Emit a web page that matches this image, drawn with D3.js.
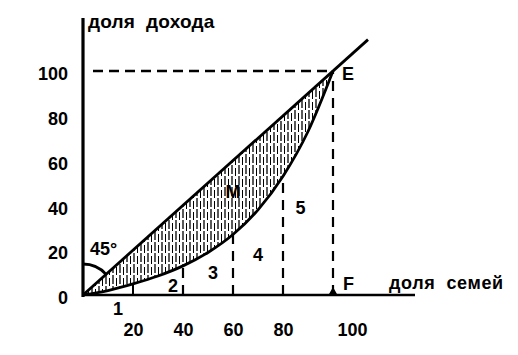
<!DOCTYPE html>
<html>
<head>
<meta charset="utf-8">
<script src="https://cdn.jsdelivr.net/npm/d3@7"></script>
<style>
  body { margin: 0; background: #fff; }
  svg text { font-family: "Liberation Sans", Arial, sans-serif; font-weight: bold; fill: #000; white-space: pre; }
</style>
</head>
<body>
<svg id="chart"></svg>
<script>
// values
let ticks = [0, 20, 40, 60, 80, 100];
let families = [0, 10, 20, 30, 40, 50, 60, 70, 80, 90, 100];   // доля семей, %
let income = [0, 2, 5, 8.5, 13, 19, 27, 38, 53, 73, 100];      // доля дохода, %
let dropLines = [40, 60, 80, 100];
let zoneLabels = [
    {t: '1', x: 14, y: -6},
    {t: '2', x: 36, y: 4},
    {t: '3', x: 52, y: 10},
    {t: '4', x: 70, y: 18},
    {t: '5', x: 87, y: 39},
    {t: 'M', x: 60, y: 46}
];

let w = 518;
let h = 355;

let svg = d3.select('#chart')
    .attr('width', w)
    .attr('height', h);

let x = d3.scaleLinear().domain([0, 100]).range([83, 333]);
let y = d3.scaleLinear().domain([0, 100]).range([295, 71]);

let lorenz = families.map((f, i) => ({f: f, v: income[i]}));
let curve = d3.curveMonotoneX;

// hatching pattern (vertical strokes, a bit irregular like the scan)
let pat = svg.append('defs').append('pattern')
    .attr('id', 'hatch')
    .attr('patternUnits', 'userSpaceOnUse')
    .attr('width', 7)
    .attr('height', 11);
pat.append('line')
    .attr('x1', 1).attr('x2', 1)
    .attr('y1', 0).attr('y2', 9)
    .attr('stroke', '#000').attr('stroke-width', 1.3);
pat.append('line')
    .attr('x1', 4.5).attr('x2', 4.5)
    .attr('y1', 3).attr('y2', 11)
    .attr('stroke', '#000').attr('stroke-width', 1);

// shaded area between the equality line and the curve
svg.append('path')
    .datum(lorenz)
    .attr('fill', 'url(#hatch)')
    .attr('d', d3.area()
        .x(d => x(d.f))
        .y0(d => y(d.v))
        .y1(d => y(d.f))
        .curve(curve));

// dashed guides
svg.append('line')
    .attr('x1', x(4)).attr('x2', x(100))
    .attr('y1', y(100)).attr('y2', y(100))
    .attr('stroke', '#000').attr('stroke-width', 2.5)
    .attr('stroke-dasharray', '10,6');

let curveAt = f => income[families.indexOf(f)];

svg.selectAll('.drop')
    .data(dropLines)
    .enter()
    .append('line')
    .attr('class', 'drop')
    .attr('x1', d => x(d)).attr('x2', d => x(d))
    .attr('y1', y(0)).attr('y2', d => y(curveAt(d)))
    .attr('stroke', '#000').attr('stroke-width', 2.2)
    .attr('stroke-dasharray', '10,7');

// solid tick at 20
svg.append('line')
    .attr('x1', x(20)).attr('x2', x(20))
    .attr('y1', y(0)).attr('y2', y(curveAt(20)))
    .attr('stroke', '#000').attr('stroke-width', 2);

// equality line (extended past E)
svg.append('line')
    .attr('x1', x(0)).attr('y1', y(0))
    .attr('x2', x(114)).attr('y2', y(114))
    .attr('stroke', '#000').attr('stroke-width', 2.8);

// lorenz curve
svg.append('path')
    .datum(lorenz)
    .attr('fill', 'none')
    .attr('stroke', '#000')
    .attr('stroke-width', 2.8)
    .attr('d', d3.line().x(d => x(d.f)).y(d => y(d.v)).curve(curve));

// 45 degree arc
let ang = Math.atan2(y(0) - y(100), x(100) - x(0));
svg.append('path')
    .attr('transform', `translate(${x(0)},${y(0)})`)
    .attr('fill', 'none')
    .attr('stroke', '#000')
    .attr('stroke-width', 2.8)
    .attr('d', d3.arc()({innerRadius: 31, outerRadius: 31, startAngle: 0, endAngle: Math.PI / 2 - ang}));

// axes
svg.append('line')
    .attr('x1', x(0)).attr('x2', x(0))
    .attr('y1', 18).attr('y2', y(0) + 2)
    .attr('stroke', '#000').attr('stroke-width', 3.2);
svg.append('line')
    .attr('x1', x(0)).attr('x2', 415)
    .attr('y1', y(0)).attr('y2', y(0))
    .attr('stroke', '#000').attr('stroke-width', 2.5);

let yAxis = svg.append('g')
    .attr('transform', `translate(${x(0) - 13}, 3)`)
    .call(d3.axisLeft(y).tickValues(ticks).tickSize(0).tickPadding(2));
yAxis.select('.domain').remove();
yAxis.selectAll('text')
    .attr('font-size', 18)
    .attr('font-family', '"Liberation Sans", Arial, sans-serif');

let xAxis = svg.append('g')
    .attr('transform', `translate(0, ${y(0)})`)
    .call(d3.axisBottom(x).tickValues(ticks.slice(1)).tickSize(0).tickPadding(28));
xAxis.select('.domain').remove();
xAxis.selectAll('text')
    .attr('font-size', 18)
    .attr('font-family', '"Liberation Sans", Arial, sans-serif')
    .attr('dx', d => d === 100 ? 19 : 0);

// point F
svg.append('path')
    .attr('transform', `translate(${x(100)},${y(0) - 2})`)
    .attr('d', d3.symbol(d3.symbolTriangle, 45)());

// texts
svg.append('text').attr('x', 88).attr('y', 28).attr('font-size', 19).attr('letter-spacing', 0.2).text('доля  дохода');
svg.append('text').attr('x', 389).attr('y', 289).attr('font-size', 18).attr('letter-spacing', 0.6).text('доля  семей');
svg.append('text').attr('x', x(100) + 9).attr('y', y(100) + 9).attr('font-size', 18).attr('font-weight', 'normal').text('E');
svg.append('text').attr('x', x(100) + 10).attr('y', 290).attr('font-size', 18).attr('font-weight', 'normal').text('F');
svg.append('text').attr('x', 90).attr('y', 255).attr('font-size', 18).text('45°');

svg.selectAll('.zone')
    .data(zoneLabels)
    .enter()
    .append('text')
    .attr('class', 'zone')
    .attr('x', d => x(d.x))
    .attr('y', d => y(d.y))
    .attr('text-anchor', 'middle')
    .attr('dy', '0.35em')
    .attr('font-size', 18)
    .text(d => d.t);
</script>
</body>
</html>
